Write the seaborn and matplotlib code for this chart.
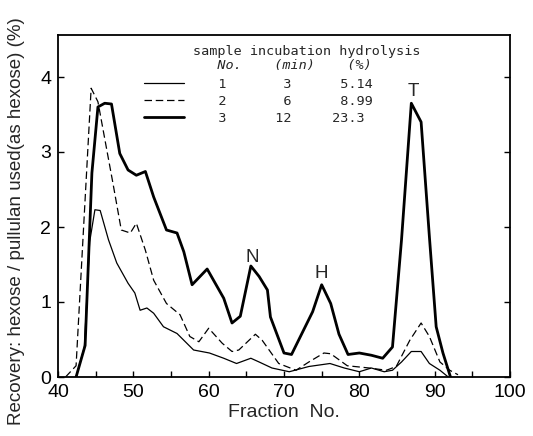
import numpy as np
import pandas as pd
import seaborn as sns
import matplotlib
matplotlib.use("Agg")
from matplotlib import pyplot as plt
from matplotlib.ticker import MultipleLocator

# sample 1 : 3 min incubation, 5.14 % hydrolysis (thin line)
frac1 = [42.4, 43.5, 44.2, 44.9, 45.6, 46.7, 47.8, 49.3, 50.2, 50.9, 51.8, 52.7,
         54.0, 55.8, 58.0, 60.1, 62.0, 63.7, 65.6, 66.7, 68.4, 70.7, 73.3, 76.1,
         78.0, 80.0, 81.6, 83.3, 84.4, 85.6, 86.9, 88.2, 89.3, 90.7, 91.8]
rec1 = [0.0, 0.40, 1.80, 2.23, 2.22, 1.83, 1.52, 1.25, 1.12, 0.89, 0.92, 0.85,
        0.67, 0.58, 0.36, 0.32, 0.25, 0.18, 0.25, 0.20, 0.12, 0.07, 0.14, 0.18,
        0.12, 0.07, 0.12, 0.07, 0.09, 0.20, 0.34, 0.34, 0.18, 0.09, 0.0]

# sample 2 : 6 min, 8.99 % (dashed line)
frac2 = [41.0, 42.4, 44.4, 45.3, 46.4, 47.3, 48.4, 49.6, 50.4, 51.6, 52.7, 54.4,
         56.2, 57.5, 58.7, 60.0, 61.8, 63.1, 64.0, 66.2, 67.1, 69.3, 71.6, 73.3,
         75.3, 76.2, 78.4, 81.3, 83.6, 84.9, 86.7, 88.2, 89.3, 90.7, 92.0, 93.1]
rec2 = [0.0, 0.15, 3.85, 3.67, 3.07, 2.58, 1.96, 1.92, 2.05, 1.69, 1.29, 0.98,
        0.83, 0.54, 0.47, 0.65, 0.45, 0.34, 0.36, 0.57, 0.49, 0.18, 0.09, 0.20,
        0.32, 0.31, 0.15, 0.12, 0.09, 0.14, 0.49, 0.72, 0.54, 0.20, 0.09, 0.03]

# sample 3 : 12 min, 23.3 % (thick line)
frac3 = [42.4, 43.6, 44.5, 45.3, 46.2, 47.1, 48.2, 49.3, 50.4, 51.6, 52.7, 54.4,
         55.8, 56.7, 57.8, 59.8, 62.0, 63.1, 64.2, 65.6, 66.7, 67.8, 68.2, 70.0,
         71.0, 73.8, 75.0, 76.2, 77.3, 78.5, 80.0, 81.6, 83.1, 84.4, 85.6, 86.9,
         88.2, 89.3, 90.2, 91.1, 92.1]
rec3 = [0.0, 0.42, 2.72, 3.60, 3.65, 3.64, 2.98, 2.76, 2.69, 2.74, 2.40, 1.96,
        1.92, 1.67, 1.23, 1.44, 1.05, 0.72, 0.81, 1.48, 1.34, 1.16, 0.80, 0.32,
        0.30, 0.87, 1.23, 0.98, 0.57, 0.30, 0.32, 0.29, 0.25, 0.40, 1.83, 3.65,
        3.40, 1.87, 0.67, 0.32, 0.0]

rows = ["   1       3      5.14",
        "   2       6      8.99",
        "   3      12     23.3"]

peaks = ["N", "H", "T"]
peak_x = [65.8, 74.9, 87.1]
peak_y = [1.60, 1.38, 3.80]

sns.set_style("ticks")
plt.rcParams["font.family"] = ["Liberation Sans", "DejaVu Sans"]

fig = plt.figure(figsize=(5.33, 4.36), dpi=100)
ax = fig.add_axes([58 / 533, 1 - 377 / 436, 452 / 533, 342 / 436])

l1 = sns.lineplot(x=frac1, y=rec1, ax=ax, color="black", linewidth=0.9,
                  sort=False, estimator=None).lines[-1]
l2 = sns.lineplot(x=frac2, y=rec2, ax=ax, color="black", linewidth=0.9,
                  sort=False, estimator=None).lines[-1]
l2.set_dashes((6, 3))
l3 = sns.lineplot(x=frac3, y=rec3, ax=ax, color="black", linewidth=2.0,
                  sort=False, estimator=None).lines[-1]

for lab, px, py in zip(peaks, peak_x, peak_y):
    ax.text(px, py, lab, ha="center", va="center", fontsize=13.5)

ax.set_xlim(40, 100)
ax.set_ylim(0, 4.56)
ax.xaxis.set_major_locator(MultipleLocator(10))
ax.xaxis.set_minor_locator(MultipleLocator(5))
ax.yaxis.set_major_locator(MultipleLocator(1))
ax.tick_params(which="both", direction="in", length=4, width=1,
               top=False, right=True, labelsize=14, pad=5, colors="black")
for s in ax.spines.values():
    s.set_linewidth(1.3)
    s.set_color("black")

ax.set_xlabel("Fraction  No.", fontsize=14, labelpad=2)
ax.set_ylabel("Recovery: hexose / pullulan used(as hexose) (%)", fontsize=13.5)
ax.yaxis.set_label_coords(-0.072, 0.455)

mono = {"family": "DejaVu Sans Mono", "size": 9.7}
fig.text(193 / 533, 1 - 52 / 436, "sample incubation hydrolysis",
         ha="left", va="center", fontdict=mono)
fig.text(193 / 533, 1 - 66 / 436, "   No.    (min)    (%)",
         ha="left", va="center", fontdict=mono, style="italic")

leg = ax.legend([l1, l2, l3], rows, prop={"family": "DejaVu Sans Mono", "size": 9.7},
                frameon=False, loc="upper left",
                bbox_to_anchor=(144 / 533, 1 - 78 / 436),
                bbox_transform=fig.transFigure, borderpad=0, borderaxespad=0,
                handlelength=3.0, handletextpad=0.7, labelspacing=0.3)

fig.savefig("out.png", dpi=100)
